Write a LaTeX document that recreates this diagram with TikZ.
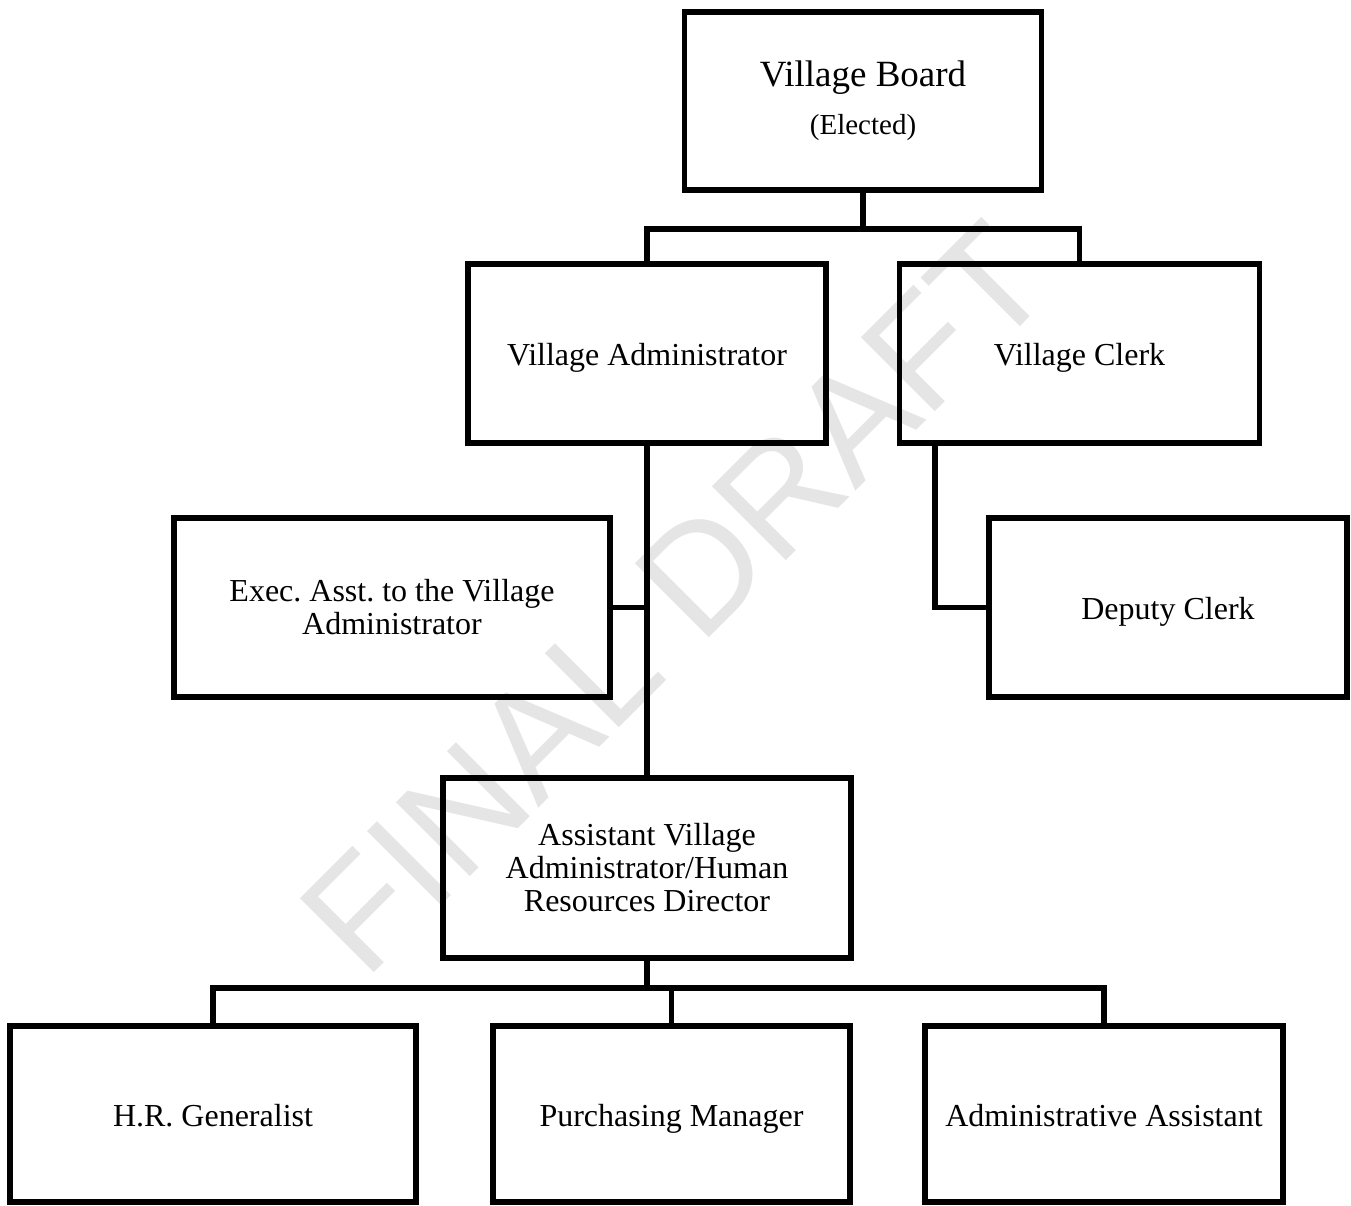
\documentclass[tikz,border=0pt]{standalone}
\usepackage{fontspec}
\setmainfont{Liberation Serif}
\newfontfamily\markfont{Liberation Sans}
\frenchspacing
\begin{document}
\begin{tikzpicture}[x=1pt, y=-1pt, line width=5.4pt, every node/.append style={text=black, font=\fontsize{32}{33}\selectfont},
	post/.style={draw, align=center, inner sep=0pt, minimum width=358pt, minimum height=179pt},
	single/.style={text height=30pt, text depth=6pt}]
	\useasboundingbox (0,0) rectangle (1351,1205);
	\node [rotate=45, text=black!10, font=\markfont\fontsize{152}{152}\selectfont] (mark) at (675,598) {FINAL DRAFT};
	
	\node [post, minimum width=357pt, minimum height=178pt, font=\fontsize{29}{48}\selectfont] (board) at (863,101) {{\fontsize{37}{48}\selectfont Village Board}\\(Elected)};
	\node [post, single] (admin) at (647,353.5) {Village Administrator};
	\node [post, single, minimum width=360pt] (clerk) at (1079.5,353.5) {Village Clerk};
	\node [post, minimum width=436pt] (exec) at (392,607.5) {Exec. Asst. to the Village\\Administrator};
	\node [post, single] (deputy) at (1168,607.5) {Deputy Clerk};
	\node [post, minimum width=408pt, minimum height=180pt] (asst) at (647,868) {Assistant Village\\Administrator/Human\\Resources Director};
	\node [post, single, minimum width=406pt, minimum height=176pt] (hr) at (213,1114) {H.R. Generalist};
	\node [post, single, minimum width=357pt, minimum height=176pt] (purch) at (671.5,1114) {Purchasing Manager};
	\node [post, single, minimum height=176pt] (aa) at (1104,1114) {Administrative Assistant};
	
	\coordinate (bus1) at (863,229);
	\coordinate (bus2) at (647,988);
	
	\draw (board.south) -- (bus1);
	\draw (admin.north) |- (bus1) -| (clerk.north);
	\draw (admin.south) -- (asst.north);
	\draw (exec.east) -- (exec.east -| admin.south);
	\draw (deputy.west) -| ([xshift=38pt]clerk.south west);
	
	\draw (asst.south) -- (bus2);
	\draw (hr.north) |- (bus2) -| (aa.north);
	\draw (purch.north) -- (purch.north |- bus2);
\end{tikzpicture}
\end{document}
